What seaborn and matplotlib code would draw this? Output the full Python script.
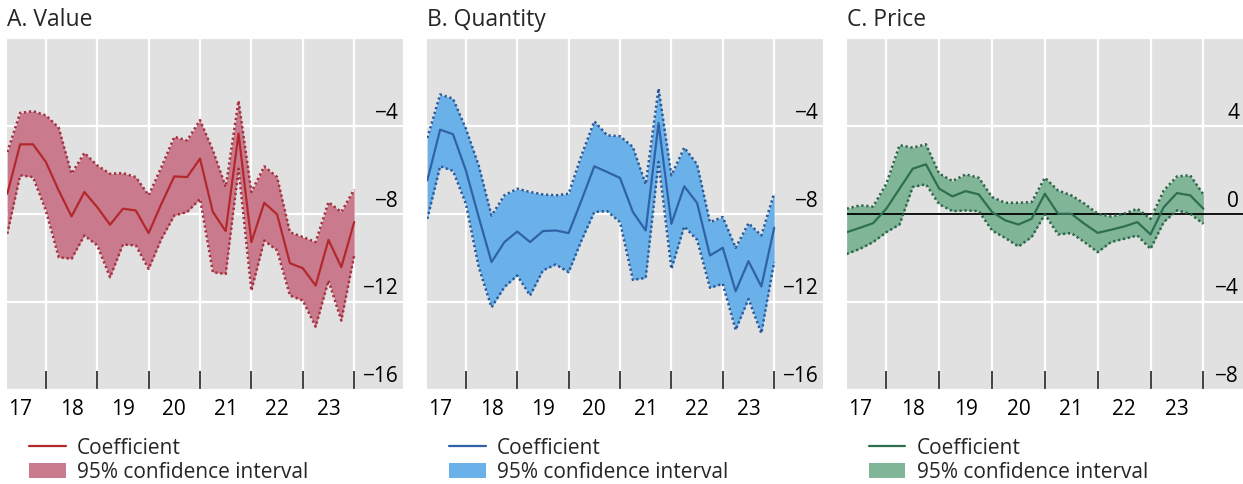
import numpy as np
import pandas as pd
import matplotlib
matplotlib.use("Agg")
import matplotlib.pyplot as plt
from matplotlib.lines import Line2D
from matplotlib.patches import Patch
from matplotlib.transforms import blended_transform_factory
import seaborn as sns

# Quarterly observations, 2017 Q1 .. 2023 Q4, plotted at quarter end
quarters = [2017.25 + 0.25 * i for i in range(28)]
year_labels = ["17", "18", "19", "20", "21", "22", "23"]

value_coef = [-7.09, -4.84, -4.84, -5.64, -6.94, -8.12, -7.01, -7.70, -8.50, -7.77,
              -7.85, -8.88, -7.54, -6.30, -6.33, -5.49, -7.92, -8.79, -4.35, -9.29,
              -7.50, -8.03, -10.25, -10.48, -11.27, -9.19, -10.43, -8.38]
value_hi = [-5.19, -3.41, -3.33, -3.52, -4.08, -6.18, -5.23, -5.80, -6.18, -6.15,
            -6.33, -7.16, -5.87, -4.50, -4.66, -3.74, -5.11, -6.78, -2.86, -7.01,
            -5.84, -6.33, -8.84, -9.06, -9.29, -7.47, -7.92, -6.89]
value_lo = [-8.91, -6.25, -6.33, -7.85, -9.98, -10.05, -8.99, -9.44, -10.89, -9.40,
            -9.44, -10.51, -9.14, -8.08, -7.92, -7.32, -10.66, -10.74, -5.95, -11.50,
            -9.22, -9.67, -11.72, -11.95, -13.14, -11.04, -12.86, -9.90]

quantity_coef = [-6.48, -4.17, -4.38, -6.02, -8.15, -10.20, -9.29, -8.81, -9.29, -8.79,
                 -8.76, -8.88, -7.39, -5.84, -6.10, -6.37, -7.92, -8.76, -3.87, -8.46,
                 -6.75, -7.51, -9.90, -9.55, -11.53, -10.16, -11.31, -8.64]
quantity_hi = [-4.55, -2.57, -2.76, -4.12, -5.80, -8.08, -7.16, -6.86, -7.01, -7.12,
               -7.16, -7.09, -5.34, -3.79, -4.43, -4.47, -4.96, -6.66, -2.30, -6.25,
               -4.99, -5.75, -8.38, -8.15, -9.55, -8.43, -8.99, -7.06]
quantity_lo = [-8.23, -5.84, -6.05, -7.54, -10.43, -12.26, -11.34, -10.81, -11.72, -10.58,
               -10.31, -10.66, -9.22, -7.92, -7.88, -8.38, -11.01, -10.92, -5.64, -10.51,
               -8.58, -9.19, -11.37, -11.19, -13.29, -11.88, -13.44, -10.20]

price_coef = [-0.84, -0.64, -0.43, 0.23, 1.14, 2.05, 2.25, 1.14, 0.79, 1.03,
              0.88, 0.08, -0.30, -0.49, -0.23, 0.91, 0.00, 0.00, -0.46, -0.87,
              -0.73, -0.58, -0.38, -0.94, 0.30, 0.94, 0.84, 0.23]
price_hi = [0.23, 0.38, 0.33, 1.37, 3.12, 3.01, 3.16, 1.83, 1.49, 1.79,
            1.64, 0.76, 0.50, 0.50, 0.53, 1.64, 1.06, 0.84, 0.46, 0.00,
            -0.12, 0.00, 0.23, -0.23, 1.06, 1.70, 1.75, 0.88]
price_lo = [-1.83, -1.60, -1.29, -0.84, -0.49, 1.22, 1.34, 0.43, 0.12, 0.15,
            0.12, -0.76, -1.10, -1.49, -1.06, -0.03, -0.94, -0.88, -1.29, -1.75,
            -1.29, -1.14, -0.99, -1.60, -0.38, 0.15, 0.00, -0.46]

panels = [
    dict(title="A. Value", coef=value_coef, hi=value_hi, lo=value_lo,
         yticks=[-16, -12, -8, -4], ylim=(-16, 0),
         line="#b3282d", fill="#c97b8d", edge="#a3303c"),
    dict(title="B. Quantity", coef=quantity_coef, hi=quantity_hi, lo=quantity_lo,
         yticks=[-16, -12, -8, -4], ylim=(-16, 0),
         line="#2f62a6", fill="#6ab1ea", edge="#2a5897"),
    dict(title="C. Price", coef=price_coef, hi=price_hi, lo=price_lo,
         yticks=[-8, -4, 0, 4], ylim=(-8, 8),
         line="#2e6f51", fill="#80b597", edge="#2d6549"),
]

sns.set_style("darkgrid", {"axes.facecolor": "#e1e1e1", "grid.color": "white"})
plt.rcParams["font.family"] = ["Open Sans", "DejaVu Sans"]

FS = 15

W, H = 1243, 484
fig = plt.figure(figsize=(W / 100, H / 100), dpi=100)

# axes placement in pixels: (left, right) and data span in years
ax_px = [(7.3, 403.0, 2024.95), (427.3, 823.0, 2024.95), (846.7, 1243.0, 2024.75)]
top_px, bot_px = 38.0, 389.5

for p, (l, r, xr) in zip(panels, ax_px):
    ax = fig.add_axes([l / W, 1 - bot_px / H, (r - l) / W, (bot_px - top_px) / H])
    df = pd.DataFrame({"t": quarters, "coef": p["coef"], "hi": p["hi"], "lo": p["lo"]})

    ax.fill_between(df["t"], df["lo"], df["hi"], color=p["fill"], lw=0, zorder=2)
    if p["title"].startswith("C"):
        ax.axhline(0, color="black", lw=1.3, zorder=3)
    for col in ("hi", "lo"):
        sns.lineplot(data=df, x="t", y=col, ax=ax, color=p["edge"], lw=1.8,
                     dashes=False, zorder=4)
        ax.lines[-1].set_dashes((0.9, 1.1))
    sns.lineplot(data=df, x="t", y="coef", ax=ax, color=p["line"], lw=1.6, zorder=5)

    ax.set_xlim(2017.25, xr)
    ax.set_ylim(*p["ylim"])
    ax.set_xlabel("")
    ax.set_ylabel("")
    for s in ax.spines.values():
        s.set_visible(False)

    # year boundaries: white grid and short inward ticks; labels at mid-year
    ax.set_xticks(list(range(2018, 2025)))
    ax.set_xticklabels([])
    ax.set_xticks([y + 0.5 for y in range(2017, 2024)], minor=True)
    ax.set_xticklabels(year_labels, minor=True, fontsize=FS)
    ax.tick_params(axis="x", which="major", direction="in", length=14, width=1.2,
                   color="#222222", bottom=True)
    ax.tick_params(axis="x", which="minor", length=0, pad=7, labelcolor="black")
    ax.grid(True, which="major", axis="both", color="white", lw=1.6)
    ax.grid(False, which="minor")
    ax.set_axisbelow(True)

    ax.set_yticks(list(range(p["ylim"][0], p["ylim"][1] + 1, 4)))
    ax.tick_params(axis="y", left=False, labelleft=False)
    tr = blended_transform_factory(ax.transAxes, ax.transData)
    for v in p["yticks"]:
        lab = f"\u2212{abs(v)}" if v < 0 else f"{v}"
        ax.text(1 - 4 / (r - l), v + 0.1, lab, transform=tr, ha="right",
                va="bottom", fontsize=FS, color="black")

    fig.text(l / W, 1 - 20 / H, p["title"], ha="left", va="center", fontsize=16.5)

    handles = [Line2D([], [], color=p["line"], lw=1.6),
               Patch(facecolor=p["fill"], edgecolor="none")]
    ax.legend(handles, ["Coefficient", "95% confidence interval"],
              loc="upper left", bbox_to_anchor=(22 / (r - l), -48 / (bot_px - top_px)),
              frameon=False, fontsize=FS, handlelength=1.75, handleheight=0.7,
              handletextpad=0.55, borderpad=0, borderaxespad=0, labelspacing=0.15)

fig.savefig("out.png", dpi=100)
